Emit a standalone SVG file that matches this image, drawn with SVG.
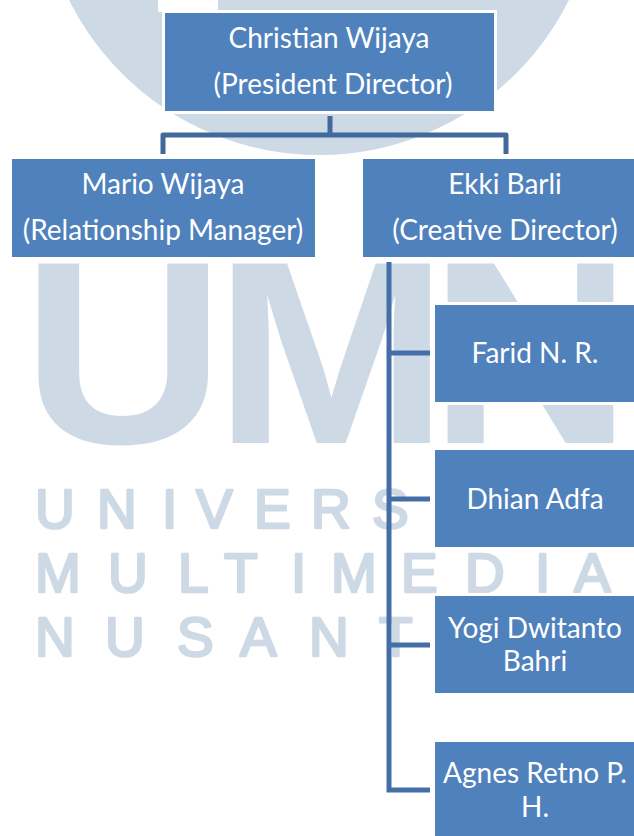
<svg xmlns="http://www.w3.org/2000/svg" width="634" height="836" viewBox="0 0 634 836">
<style>
.wm{fill:#cdd9e4;stroke:#cdd9e4;stroke-linejoin:round;font-family:"Liberation Sans",Arial,sans-serif}
.b{font-weight:700}
.s{font-size:55px;stroke-width:2.6}
.box{fill:#4f81bd;stroke:#fff;stroke-width:3}
.t{fill:#fff;font-family:Lato,"Open Sans",sans-serif;font-size:28px;text-anchor:middle}
.c{fill:none;stroke:#41699c;stroke-width:5}
.c2{fill:none;stroke:#436ea8;stroke-width:5}
</style>
<rect width="634" height="836" fill="#fff"/>
<g id="watermark">
<circle cx="319" cy="-124" r="279" fill="#cdd9e4"/>
<rect x="158" y="0" width="60" height="12" fill="#fff"/>
<text class="wm b" transform="translate(0 443) scale(1.08 1)" font-size="261" x="20 198 397" y="0" stroke-width="0">UMN</text>
<text class="wm s" x="35 97 162 196 254 311 372" y="528">UNIVERS</text>
<text class="wm s" x="35 108 178 224 291 331 401 465 535 574" y="592">MULTIMEDIA</text>
<text class="wm s" x="35 105 177 240 309 379" y="656">NUSANT</text>
</g>
<g id="connectors">
<path class="c" stroke-linejoin="round" d="M330 116V135M163 154V135H506V154"/>
<path class="c2" d="M389 262V790H430M389 353H430M389 499H430M389 645H430"/>
</g>
<g id="n1"><rect class="box" x="163.500" y="11.500" width="332" height="101"/><text class="t" x="329" y="48">Christian Wijaya</text><text class="t" x="333" y="94">(President Director)</text></g>
<g id="n2"><rect class="box" x="10.500" y="157.500" width="306" height="101"/><text class="t" x="163" y="194">Mario Wijaya</text><text class="t" x="163" y="240">(Relationship Manager)</text></g>
<g id="n3"><rect class="box" x="361.500" y="157.500" width="280" height="101"/><text class="t" x="505" y="194">Ekki Barli</text><text class="t" x="505" y="240">(Creative Director)</text></g>
<g id="n4"><rect class="box" x="433.500" y="303.500" width="210" height="100"/><text class="t" x="535" y="363">Farid N. R.</text></g>
<g id="n5"><rect class="box" x="433.500" y="448.500" width="210" height="100"/><text class="t" x="535" y="509">Dhian Adfa</text></g>
<g id="n6"><rect class="box" x="433.500" y="594.500" width="210" height="100"/><text class="t" x="535" y="638">Yogi Dwitanto</text><text class="t" x="535" y="671">Bahri</text></g>
<g id="n7"><rect class="box" x="433.500" y="740.500" width="210" height="100"/><text class="t" x="535" y="783">Agnes Retno P.</text><text class="t" x="535" y="817">H.</text></g>
</svg>
